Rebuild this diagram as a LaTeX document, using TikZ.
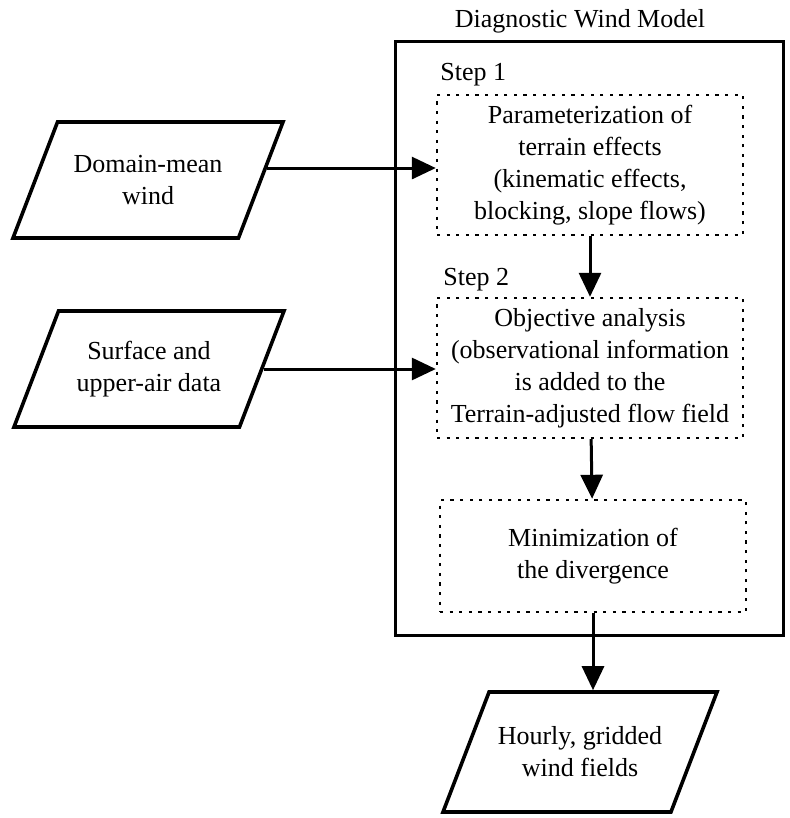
\documentclass[tikz,border=0pt]{standalone}
\usepackage{fontspec}
\setmainfont{Liberation Serif}
\usetikzlibrary{shapes.geometric,arrows.meta,calc}

\begin{document}
\begin{tikzpicture}[x=0.5pt,y=-0.5pt,
    font=\fontsize{13}{16}\selectfont,
    io/.style={draw,line width=1.8pt,trapezium,trapezium left angle=69,
      trapezium right angle=111,trapezium stretches body=true,
      inner xsep=0pt,inner ysep=29pt,minimum width=135pt},
    txt/.style={align=center,font=\fontsize{13}{16}\selectfont},
    stepbox/.style={draw,line width=1.2pt,dash pattern=on 1.6pt off 3.2pt,
      minimum width=153pt,align=center},
    arr/.style={line width=1.5pt,-{Triangle[width=11pt,length=12pt]}}]
      \useasboundingbox (0,0) rectangle (790,818);
      \node (title) at (580,21) {Diagnostic Wind Model};
      \node[draw,line width=1.5pt,minimum width=194pt,minimum height=296.5pt] (model) at (589,338.5) {};
      \node[anchor=west,inner sep=0] (lab1) at (440,75) {Step 1};
      \node[anchor=west,inner sep=0] (lab2) at (443,280) {Step 2};
      \node[stepbox,minimum height=70pt] (st1) at (590,165)
        {Parameterization of\\terrain effects\\(kinematic effects,\\blocking, slope flows)};
      \node[stepbox,minimum height=70pt] (st2) at (590,368)
        {Objective analysis\\(observational information\\is added to the\\Terrain-adjusted flow field};
      \node[stepbox,minimum height=56pt] (st3) at (593,556) {Minimization of\\the divergence};
      \node[io,label={[txt]center:Domain-mean\\wind}] (dom) at (148,180) {};
      \node[io,label={[txt]center:Surface and\\upper-air data}] (surf) at (149,369) {};
      \node[io,inner ysep=30pt,minimum width=137pt,
        label={[txt]center:Hourly, gridded\\wind fields}] (out) at (580,752) {};
      \coordinate (dome) at ($(dom.top right corner)!0.4!(dom.bottom right corner)$);
      \draw[arr] (dome) -- (dome -| st1.west);
      \draw[arr] (surf.east) -- (surf.east -| st2.west);
      \foreach \a/\b in {st1/st2,st2/st3}
        \draw[arr] (\a) -- (\b);
      \draw[arr] (st3.south) -- (st3.south |- out.north);
\end{tikzpicture}
\end{document}
